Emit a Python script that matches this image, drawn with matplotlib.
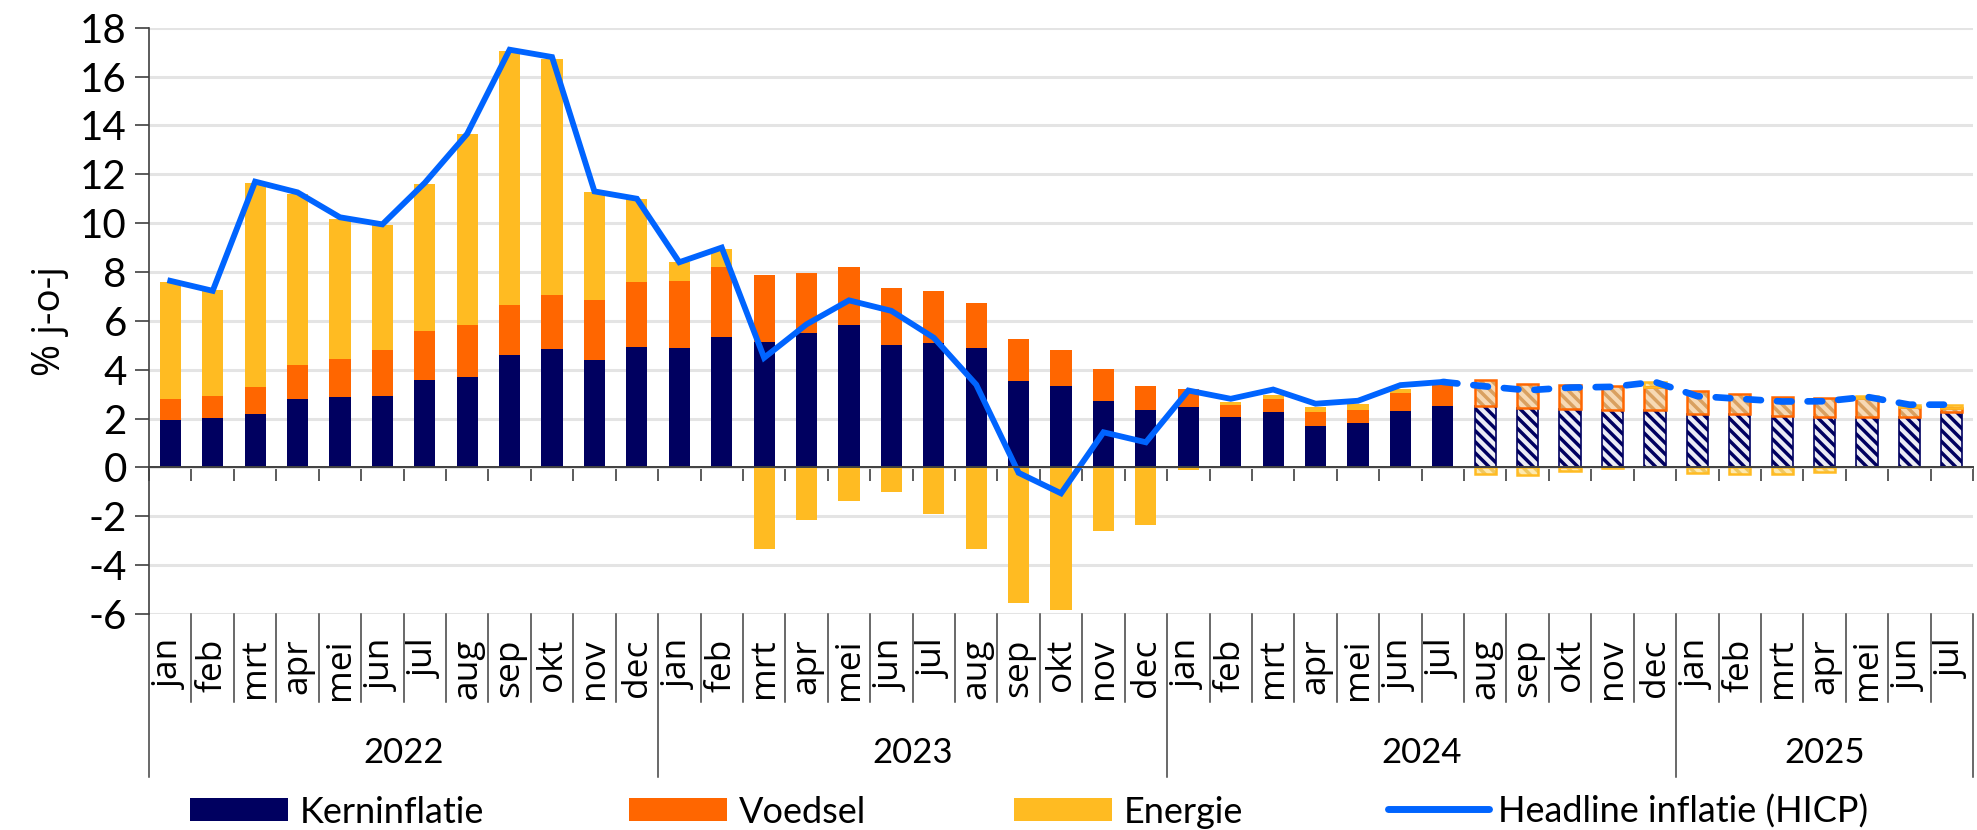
import matplotlib
matplotlib.use("Agg")
import matplotlib.pyplot as plt
from matplotlib.patches import Rectangle
from matplotlib.lines import Line2D
import numpy as np

# maanden en jaren
months = ["jan", "feb", "mrt", "apr", "mei", "jun", "jul", "aug", "sep", "okt", "nov", "dec"] * 3 + \
         ["jan", "feb", "mrt", "apr", "mei", "jun", "jul"]
years = ["2022", "2023", "2024", "2025"]

kern = [1.96, 2.03, 2.18, 2.81, 2.89, 2.92, 3.57, 3.71, 4.60, 4.86, 4.38, 4.93,
        4.87, 5.34, 5.13, 5.52, 5.82, 5.00, 5.09, 4.89, 3.52, 3.33, 2.71, 2.37,
        2.48, 2.05, 2.26, 1.70, 1.84, 2.30, 2.51, 2.53, 2.43, 2.41, 2.37, 2.34,
        2.20, 2.17, 2.11, 2.07, 2.07, 2.07, 2.26]
voedsel = [0.83, 0.89, 1.10, 1.38, 1.56, 1.88, 2.01, 2.12, 2.05, 2.20, 2.46, 2.67,
           2.77, 2.87, 2.73, 2.42, 2.37, 2.36, 2.12, 1.86, 1.75, 1.49, 1.33, 0.96,
           0.75, 0.52, 0.55, 0.56, 0.53, 0.75, 0.86, 1.04, 0.98, 0.97, 0.95, 0.94,
           0.93, 0.84, 0.78, 0.78, 0.78, 0.41, 0.19]
energie = [4.82, 4.35, 8.38, 7.01, 5.72, 5.12, 6.03, 7.80, 10.40, 9.68, 4.44, 3.38,
           0.75, 0.73, -3.32, -2.15, -1.36, -1.02, -1.89, -3.32, -5.53, -5.83, -2.59, -2.34,
           -0.11, 0.10, 0.16, 0.23, 0.23, 0.18, 0.05, -0.25, -0.31, -0.14, -0.04, 0.22,
           -0.22, -0.25, -0.25, -0.18, 0.07, 0.07, 0.12]
headline = [7.64, 7.23, 11.70, 11.26, 10.24, 9.95, 11.65, 13.66, 17.10, 16.80, 11.30, 11.00,
            8.40, 9.00, 4.49, 5.86, 6.84, 6.41, 5.31, 3.39, -0.22, -1.06, 1.44, 1.03,
            3.15, 2.81, 3.19, 2.61, 2.73, 3.37, 3.50, 3.32, 3.16, 3.27, 3.30, 3.50,
            2.92, 2.81, 2.70, 2.71, 2.89, 2.57, 2.57]
n_real = 31  # t/m jul 2024 gerealiseerd, daarna raming

NAVY = "#000060"
ORANGE = "#ff6600"
YELLOW = "#ffbb22"
BLUE = "#0064ff"
GRID = "#e4e4e4"
AXC = "#404040"

plt.rcParams["hatch.linewidth"] = 2.5
num_font = ["Lato", "DejaVu Sans"]
txt_font = ["Open Sans", "DejaVu Sans"]

W, H = 1977, 830
fig = plt.figure(figsize=(W / 100, H / 100), dpi=100)
ax = fig.add_axes([0.0754, 0.2602, 0.9226, 0.7064])

x = np.arange(len(months))
kern = np.array(kern)
voedsel = np.array(voedsel)
energie = np.array(energie)
w = 0.5

top_v = kern + voedsel
e_bottom = np.where(energie >= 0, top_v, 0)

r = slice(0, n_real)
f = slice(n_real, None)

# gerealiseerd
ax.bar(x[r], kern[r], w, color=NAVY, zorder=2)
ax.bar(x[r], voedsel[r], w, bottom=kern[r], color=ORANGE, zorder=2)
ax.bar(x[r], energie[r], w, bottom=e_bottom[r], color=YELLOW, zorder=2)

# raming (gearceerd)
ax.bar(x[f], kern[f], w, facecolor="#ececf4", edgecolor=NAVY, hatch="\\\\\\", linewidth=1.2, zorder=2)
ax.bar(x[f], voedsel[f], w, bottom=kern[f], facecolor="#f7d9b4", edgecolor="#d9a060",
       hatch="\\\\\\", linewidth=0, zorder=2)
ax.bar(x[f], voedsel[f], w, bottom=kern[f], fill=False, edgecolor=ORANGE, linewidth=1.8, zorder=3)
ax.bar(x[f], energie[f], w, bottom=e_bottom[f], facecolor="#fde9b0", edgecolor="#f0c860",
       hatch="\\\\\\", linewidth=0, zorder=2)
ax.bar(x[f], energie[f], w, bottom=e_bottom[f], fill=False, edgecolor=YELLOW, linewidth=1.8, zorder=3)

# headline lijn
ax.plot(x[:n_real], headline[:n_real], color=BLUE, lw=4.2, solid_joinstyle="miter", zorder=4)
ax.plot(x[n_real - 1:], headline[n_real - 1:], color=BLUE, lw=4.8, dashes=(2.2, 2.4),
        dash_capstyle="round", zorder=4)

ax.set_xlim(-0.5, len(months) - 0.5)
ax.set_ylim(-6, 18)
ax.set_yticks(np.arange(-6, 19, 2))
ax.set_yticklabels([str(v) for v in range(-6, 19, 2)], fontsize=29, family=num_font)
ax.yaxis.grid(True, color=GRID, lw=2.2, zorder=0)
ax.set_axisbelow(True)
ax.tick_params(axis="y", direction="out", length=10, width=1.2, color=AXC, pad=6)

ax.set_xticks(np.arange(-0.5, len(months), 1))
ax.set_xticklabels([])
ax.tick_params(axis="x", direction="out", length=10, width=1.2, color=AXC)

for s in ["top", "right"]:
    ax.spines[s].set_visible(False)
ax.spines["bottom"].set_position(("data", 0))
ax.spines["bottom"].set_color(AXC)
ax.spines["bottom"].set_linewidth(1.4)
ax.spines["left"].set_color(AXC)
ax.spines["left"].set_linewidth(1.2)
ax.spines["left"].set_zorder(5)
ax.spines["bottom"].set_zorder(5)

ax.set_ylabel("% j-o-j", fontsize=28, family=txt_font, labelpad=8)

# categorie-as met maanden en jaren
trans = ax.get_xaxis_transform()
for k in range(len(months) + 1):
    yb = -0.278 if k % 12 == 0 or k == len(months) else -0.150
    ax.plot([k - 0.5, k - 0.5], [0, yb], color=AXC, lw=1.1, transform=trans, clip_on=False)
for i, m in enumerate(months):
    ax.text(i, -0.042, m, rotation=90, ha="center", va="top", fontsize=25.5,
            family=txt_font, transform=trans)
for j, yr in enumerate(years):
    start = j * 12
    end = min(start + 12, len(months))
    ax.text((start + end - 1) / 2, -0.237, yr, ha="center", va="center", fontsize=25,
            family=num_font, transform=trans)

# legenda, handmatig geplaatst (pixels)
labels = ["Kerninflatie", "Voedsel", "Energie", "Headline inflatie (HICP)"]
leg_x = [190, 629, 1014, 1388]
leg_y = 809
for lab, lx, col in zip(labels[:3], leg_x[:3], [NAVY, ORANGE, YELLOW]):
    fig.patches.append(Rectangle((lx / W, (H - leg_y - 11.5) / H), 98 / W, 23 / H,
                                 facecolor=col, transform=fig.transFigure))
fig.lines.append(Line2D([leg_x[3] / W, (leg_x[3] + 101) / W], [(H - leg_y) / H] * 2,
                        color=BLUE, lw=5, solid_capstyle="round", transform=fig.transFigure))
for lab, lx in zip(labels, leg_x):
    off = 110
    fig.text((lx + off) / W, (H - leg_y) / H, lab, ha="left", va="center_baseline",
             fontsize=26, family=num_font)

fig.savefig("out.png", dpi=100)
